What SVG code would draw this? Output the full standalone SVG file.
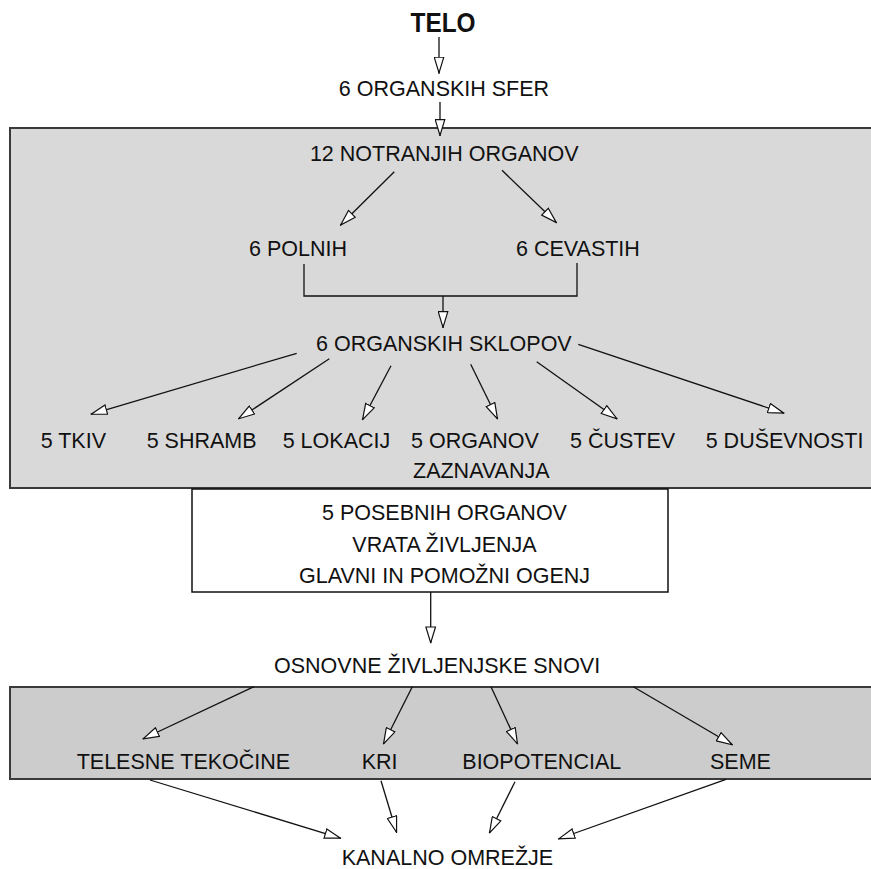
<svg xmlns="http://www.w3.org/2000/svg" width="871" height="869" viewBox="0 0 871 869">
<style>
text{font-family:"Liberation Sans",Arial,sans-serif;font-size:21.5px;fill:#111}
.t{font-weight:bold;font-size:28px}
.panel{stroke:#3a3a3a;stroke-width:2}
.c line,.c polyline{stroke:#111;stroke-width:1.3;fill:none}
.c .a{marker-end:url(#ah)}
</style>
<defs>
<marker id="ah" viewBox="0 0 17 11" refX="17" refY="5.5" markerWidth="17" markerHeight="11" markerUnits="userSpaceOnUse" orient="auto">
<path d="M0.7,0.7 L16.5,5.5 L0.7,10.3 Z" fill="#fff" stroke="#111" stroke-width="1.2"/>
</marker>
</defs>
<rect width="871" height="869" fill="#fff"/>
<g id="panel-top"><rect class="panel" x="10" y="128" width="870" height="360" fill="#d9d9d9"/></g>
<g id="panel-bottom"><rect class="panel" x="10" y="687" width="870" height="92" fill="#cccccc"/></g>
<g id="box-special"><rect x="192" y="489" width="476" height="103" fill="#fff" stroke="#111" stroke-width="1.5"/>
<text x="444.5" y="520" text-anchor="middle">5 POSEBNIH ORGANOV</text>
<text x="444.5" y="552" text-anchor="middle">VRATA ŽIVLJENJA</text>
<text x="444.5" y="583" text-anchor="middle">GLAVNI IN POMOŽNI OGENJ</text></g>
<g id="telo"><text class="t" x="443" y="32" text-anchor="middle" textLength="65" lengthAdjust="spacingAndGlyphs">TELO</text></g>
<g id="sfer"><text x="444" y="96" text-anchor="middle">6 ORGANSKIH SFER</text></g>
<g id="notranji"><text x="444.3" y="161" text-anchor="middle">12 NOTRANJIH ORGANOV</text></g>
<g id="polnih"><text x="249" y="256">6 POLNIH</text></g>
<g id="cevastih"><text x="516" y="256">6 CEVASTIH</text></g>
<g id="sklopov"><text x="316" y="351">6 ORGANSKIH SKLOPOV</text></g>
<g id="tkiv"><text x="40.7" y="448">5 TKIV</text></g>
<g id="shramb"><text x="146.7" y="448">5 SHRAMB</text></g>
<g id="lokacij"><text x="282.7" y="448">5 LOKACIJ</text></g>
<g id="zaznavanja"><text x="411" y="448">5 ORGANOV</text><text x="413" y="478">ZAZNAVANJA</text></g>
<g id="custev"><text x="570" y="448">5 ČUSTEV</text></g>
<g id="dusevnosti"><text x="705.7" y="448">5 DUŠEVNOSTI</text></g>
<g id="snovi"><text x="274" y="673">OSNOVNE ŽIVLJENJSKE SNOVI</text></g>
<g id="tekocine"><text x="76.7" y="769">TELESNE TEKOČINE</text></g>
<g id="kri"><text x="361.7" y="769">KRI</text></g>
<g id="biopotencial"><text x="462.3" y="769">BIOPOTENCIAL</text></g>
<g id="seme"><text x="710" y="769">SEME</text></g>
<g id="kanalno"><text x="341.7" y="865">KANALNO OMREŽJE</text></g>
<g id="connectors" class="c">
<line class="a" x1="439" y1="37" x2="439" y2="73.5"/>
<line class="a" x1="440" y1="102" x2="440" y2="136"/>
<line class="a" x1="394.3" y1="171.7" x2="340.3" y2="225.3"/>
<line class="a" x1="502" y1="170.3" x2="556.7" y2="223"/>
<polyline points="304,264 304,296 577,296 577,263"/>
<line class="a" x1="443" y1="296" x2="443" y2="328"/>
<line class="a" x1="296.7" y1="353.3" x2="90.7" y2="414.3"/>
<line class="a" x1="329.3" y1="358.7" x2="238.3" y2="419"/>
<line class="a" x1="391" y1="365.7" x2="362.3" y2="420"/>
<line class="a" x1="470.7" y1="364.3" x2="497.7" y2="419.3"/>
<line class="a" x1="536.7" y1="361.7" x2="617.3" y2="419"/>
<line class="a" x1="578.3" y1="344.3" x2="784.3" y2="413.3"/>
<line class="a" x1="430.7" y1="592" x2="430.7" y2="643.3"/>
<line class="a" x1="254" y1="686.7" x2="142.7" y2="739"/>
<line class="a" x1="412.3" y1="686.7" x2="383.3" y2="744.3"/>
<line class="a" x1="491" y1="686.7" x2="517.7" y2="744.3"/>
<line class="a" x1="633.3" y1="686.7" x2="732.7" y2="745"/>
<line class="a" x1="150" y1="780" x2="341" y2="838.3"/>
<line class="a" x1="381" y1="780.7" x2="396.7" y2="832.7"/>
<line class="a" x1="515" y1="781.7" x2="489.3" y2="833.3"/>
<line class="a" x1="726" y1="779.3" x2="558.3" y2="839"/>
</g>
</svg>
